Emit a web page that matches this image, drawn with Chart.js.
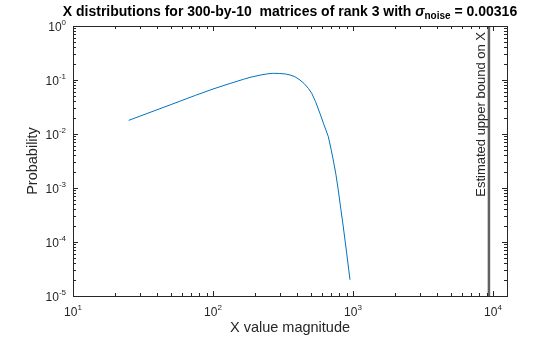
<!DOCTYPE html>
<html>
<head>
<meta charset="utf-8">
<script src="https://cdn.jsdelivr.net/npm/chart.js@4"></script>
<style>
  html, body { margin: 0; padding: 0; background: #fff; }
  canvas { display: block; }
</style>
</head>
<body>
<canvas id="chart" width="560" height="337"></canvas>
<script>
/* global Chart */

// X magnitudes and probabilities
const xValues = [25, 50, 75, 100, 132, 165, 184, 220, 245, 270, 300, 330, 355, 385, 418, 450, 480, 507,
  540, 581, 620, 667, 700, 723, 755, 785, 820, 853, 900, 952];
const probValues = [0.0179, 0.035, 0.052, 0.068, 0.086, 0.103, 0.112, 0.124, 0.13, 0.133, 0.132, 0.129,
  0.124, 0.115, 0.1, 0.085, 0.07, 0.057, 0.04, 0.024, 0.015, 0.0089, 0.005, 0.0033, 0.0018, 0.00092,
  0.0004, 0.00019, 0.000065, 0.00002];

// estimated upper bound (vertical line)
const boundX = [9360, 9360];
const boundY = [0.00001, 1];

const xMajor = [1, 2, 3, 4];
const yMajor = [0, -1, -2, -3, -4, -5];

const FONT = '"Liberation Sans", Arial, sans-serif';

function pts(xs, ys) {
  return xs.map((x, i) => ({ x, y: ys[i] }));
}

function drawPow(ctx, exp, x, y, align) {
  ctx.font = `12px ${FONT}`;
  const wBase = ctx.measureText('10').width;
  ctx.font = `8px ${FONT}`;
  const wExp = ctx.measureText(String(exp)).width;
  const total = wBase + wExp;
  let start = x - total / 2;
  if (align === 'right') start = x - total;
  ctx.textAlign = 'left';
  ctx.textBaseline = 'alphabetic';
  ctx.font = `12px ${FONT}`;
  ctx.fillText('10', start, y);
  ctx.font = `8px ${FONT}`;
  ctx.fillText(String(exp), start + wBase, y - 6);
}

const axesPlugin = {
  id: 'matlabAxes',
  afterDraw(chart) {
    const { ctx, chartArea: a, scales } = chart;
    const sx = scales.x;
    const sy = scales.y;
    ctx.save();
    ctx.strokeStyle = '#262626';
    ctx.fillStyle = '#262626';
    ctx.lineWidth = 1;

    // box
    ctx.strokeRect(Math.round(a.left) + 0.5, Math.round(a.top) + 0.5,
      Math.round(a.right - a.left), Math.round(a.bottom - a.top));

    // x ticks
    ctx.beginPath();
    xMajor.forEach((e) => {
      const base = 10 ** (e - 1);
      for (let k = 1; k <= 10; k += 1) {
        const v = base * k;
        if (v < sx.min || v > sx.max) continue;
        const px = Math.round(sx.getPixelForValue(v)) + 0.5;
        const len = (k === 1 || k === 10) ? 5 : 3;
        ctx.moveTo(px, a.bottom);
        ctx.lineTo(px, a.bottom - len);
        ctx.moveTo(px, a.top);
        ctx.lineTo(px, a.top + len);
      }
    });
    // y ticks
    yMajor.forEach((e) => {
      const base = 10 ** e;
      for (let k = 1; k <= 9; k += 1) {
        const v = base * k;
        if (v < sy.min * 0.999 || v > sy.max * 1.001) continue;
        const py = Math.round(sy.getPixelForValue(v)) + 0.5;
        const len = k === 1 ? 5 : 3;
        ctx.moveTo(a.left, py);
        ctx.lineTo(a.left + len, py);
        ctx.moveTo(a.right, py);
        ctx.lineTo(a.right - len, py);
      }
    });
    ctx.stroke();

    // tick labels
    xMajor.forEach((e) => {
      drawPow(ctx, e, sx.getPixelForValue(10 ** e), a.bottom + 20);
    });
    yMajor.forEach((e) => {
      drawPow(ctx, e, a.left - 7, sy.getPixelForValue(10 ** e) + 5, 'right');
    });

    // axis titles
    ctx.font = `14.5px ${FONT}`;
    ctx.textAlign = 'center';
    ctx.textBaseline = 'alphabetic';
    ctx.fillText('X value magnitude', (a.left + a.right) / 2, a.bottom + 36);
    ctx.save();
    ctx.translate(a.left - 36, (a.top + a.bottom) / 2);
    ctx.rotate(-Math.PI / 2);
    ctx.fillText('Probability', 0, 0);
    ctx.restore();

    // bound label
    ctx.save();
    ctx.font = `13px ${FONT}`;
    ctx.translate(sx.getPixelForValue(boundX[0]) - 4, a.top + 6);
    ctx.rotate(-Math.PI / 2);
    ctx.textAlign = 'right';
    ctx.fillText('Estimated upper bound on X', 0, 0);
    ctx.restore();

    // title with subscript
    ctx.fillStyle = '#000';
    const parts = [
      { t: 'X distributions for 300-by-10  matrices of rank 3 with ', f: `bold 14px ${FONT}`, dy: 0 },
      { t: 'σ', f: `italic bold 14px ${FONT}`, dy: 0 },
      { t: 'noise', f: `bold 10px ${FONT}`, dy: 3 },
      { t: ' = 0.00316', f: `bold 14px ${FONT}`, dy: 0 },
    ];
    let total = 0;
    parts.forEach((p) => {
      ctx.font = p.f;
      p.w = ctx.measureText(p.t).width;
      total += p.w;
    });
    let tx = (a.left + a.right) / 2 - total / 2;
    ctx.textAlign = 'left';
    parts.forEach((p) => {
      ctx.font = p.f;
      ctx.fillText(p.t, tx, 16 + p.dy);
      tx += p.w;
    });
    ctx.restore();
  },
};

function drawChart() {
  const config = {
    type: 'scatter',
    data: {
      datasets: [{
        data: pts(xValues, probValues),
        showLine: true,
        borderColor: '#0072BD',
        borderWidth: 1,
        pointRadius: 0,
      }, {
        data: pts(boundX, boundY),
        showLine: true,
        borderColor: '#616161',
        borderWidth: 2.5,
        pointRadius: 0,
      }],
    },
    options: {
      responsive: false,
      animation: false,
      devicePixelRatio: 1,
      layout: { padding: { left: 73, right: 53, top: 26, bottom: 41 } },
      plugins: {
        legend: { display: false },
        tooltip: { enabled: false },
      },
      scales: {
        x: { type: 'logarithmic', min: 10, max: 12600, display: false },
        y: { type: 'logarithmic', min: 0.00001, max: 1, display: false },
      },
    },
    plugins: [axesPlugin],
  };
  return new Chart(document.getElementById('chart'), config);
}

drawChart();
</script>
</body>
</html>
